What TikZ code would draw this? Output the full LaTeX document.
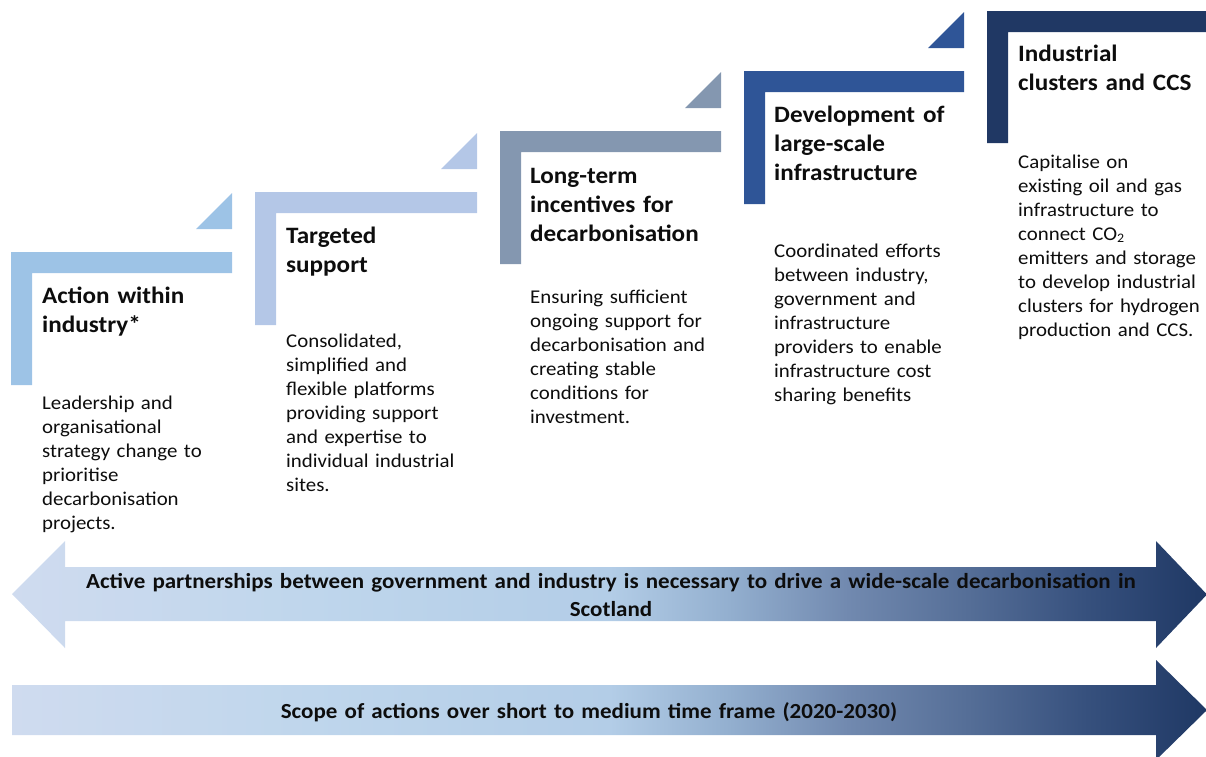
\documentclass[tikz,border=0pt]{standalone}
\usepackage{fontspec}
\setmainfont{Carlito}[FakeStretch=1.07]
\definecolor{cA}{HTML}{9DC3E6}
\definecolor{cB}{HTML}{B4C7E7}
\definecolor{cC}{HTML}{8497B0}
\definecolor{cD}{HTML}{2F5597}
\definecolor{cE}{HTML}{203864}
\definecolor{txt}{HTML}{0D0D0D}
\definecolor{g0}{HTML}{CFDBEF}
\definecolor{g1}{HTML}{BFD6EC}
\definecolor{g2}{HTML}{B3CDE7}
\definecolor{g3}{HTML}{93AFCF}
\definecolor{g4}{HTML}{7189AF}
\definecolor{g5}{HTML}{556E97}
\definecolor{g6}{HTML}{36507D}
\definecolor{g7}{HTML}{1F3864}
\pgfdeclarehorizontalshading{bandgrad}{100bp}{color(0bp)=(g0); color(25bp)=(g0); color(37.5bp)=(g1); color(50bp)=(g2); color(55bp)=(g3); color(60bp)=(g4); color(65bp)=(g5); color(70bp)=(g6); color(75bp)=(g7); color(100bp)=(g7)}
\tikzset{
  steptitle/.style={anchor=base west, inner sep=0pt, text width=230pt, align=left, text=txt,
    font=\fontsize{23.5}{29}\selectfont\bfseries},
  stepbody/.style={anchor=base west, inner sep=0pt, text width=230pt, align=left, text=txt,
    font=\fontsize{19.5}{24}\selectfont},
  bandtext/.style={anchor=base, inner sep=0pt, text width=1150pt, align=center, text=txt,
    font=\fontsize{21.5}{28}\selectfont\bfseries},
  band/.style={shading=bandgrad, draw=none},
}
\begin{document}
\begin{tikzpicture}[x=1pt,y=-1pt]
\useasboundingbox (0,0) rectangle (1206,756);
\clip (0,0) rectangle (1206,756);
% L-shaped steps: x0, top, right, bottom
\newcommand{\lstep}[5]{\fill[#5] (#1,#2) -- (#3,#2) -- (#3,#2+21) -- (#1+21,#2+21) -- (#1+21,#4) -- (#1,#4) -- cycle;}
\newcommand{\ltri}[3]{\fill[#3] (#1-36,#2) -- (#1,#2) -- (#1,#2-36) -- cycle;}
\lstep{11}{252}{232}{385}{cA}
\lstep{255}{192}{477}{325}{cB}
\lstep{500}{131}{721}{264}{cC}
\lstep{744}{71}{964}{204}{cD}
\lstep{987}{11}{1220}{143}{cE}
\ltri{232}{229}{cA}
\ltri{477}{169}{cB}
\ltri{721}{108}{cC}
\ltri{964}{48}{cD}
% titles
\node[steptitle] (t1) at (42,303) {Action within\\industry*};
\node[steptitle] (t2) at (286,243) {Targeted\\support};
\node[steptitle] (t3) at (530,183) {Long-term\\incentives for\\decarbonisation};
\node[steptitle] (t4) at (774,122) {Development of\\large-scale\\infrastructure};
\node[steptitle] (t5) at (1018,61) {Industrial\\clusters and CCS};
% bodies
\node[stepbody] (b1) at (42,409) {Leadership and\\organisational\\strategy change to\\prioritise\\decarbonisation\\projects.};
\node[stepbody] (b2) at (286,347) {Consolidated,\\simplified and\\flexible platforms\\providing support\\and expertise to\\individual industrial\\sites.};
\node[stepbody] (b3) at (530,303) {Ensuring sufficient\\ongoing support for\\decarbonisation and\\creating stable\\conditions for\\investment.};
\node[stepbody] (b4) at (774,257) {Coordinated efforts\\between industry,\\government and\\infrastructure\\providers to enable\\infrastructure cost\\sharing benefits};
\node[stepbody] (b5) at (1018,168) {Capitalise on\\existing oil and gas\\infrastructure to\\connect CO\raisebox{-0.3ex}{\fontsize{13}{13}\selectfont 2}\\emitters and storage\\to develop industrial\\clusters for hydrogen\\production and CCS.};
% bands
\path[band] (12,594) -- (65,541) -- (65,567) -- (1156,567) -- (1156,541) -- (1207,594.5) -- (1156,648) -- (1156,621) -- (65,621) -- (65,648) -- cycle;
\path[band] (12,685) -- (1156,685) -- (1156,660) -- (1207,710) -- (1156,760) -- (1156,735) -- (12,735) -- cycle;
\node[bandtext] (a1) at (611,588) {Active partnerships between government and industry is necessary to drive a wide-scale decarbonisation in\\Scotland};
\node[bandtext] (a2) at (589,718) {Scope of actions over short to medium time frame (2020-2030)};
\end{tikzpicture}
\end{document}
